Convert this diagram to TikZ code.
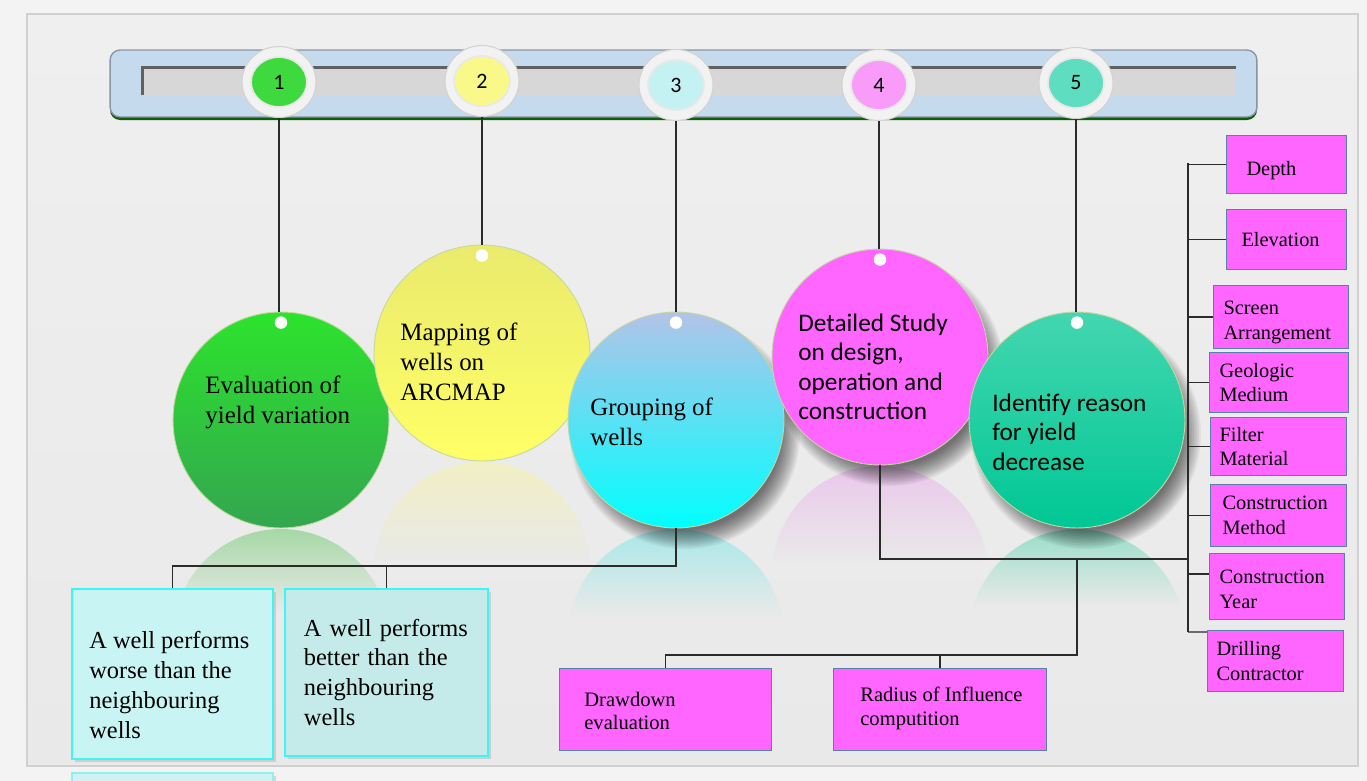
\documentclass[tikz,border=0pt]{standalone}
\usepackage{fontspec}
\setmainfont{Liberation Serif}
\newfontfamily\calib{Carlito}
\usetikzlibrary{shapes.geometric,shadows}
\definecolor{bgout}{HTML}{F3F3F3}
\definecolor{bgtop}{HTML}{EFEFEF}
\definecolor{bgbot}{HTML}{E9E9E9}
\definecolor{paneledge}{HTML}{D0D0D0}
\definecolor{barblue}{HTML}{C6DAEE}
\definecolor{bargray}{HTML}{8A96A4}
\definecolor{bargreen}{HTML}{0B5E0B}
\definecolor{chanc}{HTML}{D7D7D7}
\definecolor{nout}{HTML}{F2F2F2}
\definecolor{nca}{HTML}{3ED93E}
\definecolor{ncb}{HTML}{F9F98A}
\definecolor{ncc}{HTML}{C4F2F2}
\definecolor{ncd}{HTML}{F99CF9}
\definecolor{nce}{HTML}{5EDDC0}
\definecolor{cga}{HTML}{2DE32D}
\definecolor{cgb}{HTML}{33A650}
\definecolor{cya}{HTML}{EAEA6E}
\definecolor{cyb}{HTML}{FFFF66}
\definecolor{cca}{HTML}{B3C3E8}
\definecolor{ccb}{HTML}{00FFFF}
\definecolor{cpk}{HTML}{FF66FF}
\definecolor{cta}{HTML}{44D6B0}
\definecolor{ctb}{HTML}{00C795}
\definecolor{circedge}{HTML}{C5D8A0}
\definecolor{reflg}{HTML}{A6D8A6}
\definecolor{refly}{HTML}{F1EFC3}
\definecolor{reflc}{HTML}{A8E8E8}
\definecolor{reflp}{HTML}{EBC7EB}
\definecolor{reflt}{HTML}{98DEC9}
\definecolor{mag}{HTML}{FF66FF}
\definecolor{magedge}{HTML}{5B80A8}
\definecolor{cyanboxa}{HTML}{C8F4F4}
\definecolor{cyanboxb}{HTML}{C4EAEA}
\definecolor{cyanedge}{HTML}{3CF5F5}
\definecolor{linec}{HTML}{2B2B2B}
\begin{document}
\begin{tikzpicture}[x=0.02cm,y=-0.02cm,
  conn/.style={draw=linec, line width=0.7pt},
  bigc/.style={circle, minimum size=4.32cm, inner sep=0pt, draw=circedge, line width=0.5pt},
  numout/.style={ellipse, minimum width=1.48cm, minimum height=1.42cm, inner sep=0pt, fill=nout, draw=gray!35, line width=0.6pt},
  numin/.style={ellipse, minimum width=1.12cm, minimum height=1.0cm, inner sep=0pt, draw=gray!18, line width=1pt, font=\calib\fontsize{12.5pt}{14pt}\selectfont},
  ctext/.style={anchor=west, align=left, inner sep=0pt, font=\fontsize{14.2pt}{17pt}\selectfont},
  ctexts/.style={anchor=west, align=left, inner sep=0pt, font=\calib\fontsize{14.4pt}{16.8pt}\selectfont},
  mbox/.style={draw=magedge, fill=mag, line width=0.6pt, anchor=north west, align=left, inner ysep=0pt, font=\fontsize{11.6pt}{14.2pt}\selectfont},
  bbox/.style={draw=magedge, fill=mag, line width=0.6pt, anchor=north west, inner sep=0pt},
  btext/.style={anchor=west, align=left, inner sep=0pt, font=\fontsize{11.7pt}{13.6pt}\selectfont},
  cbox/.style={draw=cyanedge, line width=1pt, anchor=north west, align=left, inner ysep=0pt, font=\fontsize{13.9pt}{17pt}\selectfont, drop shadow={shadow xshift=0.06cm, shadow yshift=-0.06cm, opacity=0.25}}
]
\useasboundingbox (0,0) rectangle (1367,781);
% background
\fill[bgout] (0,0) rectangle (1367,781);
\shade[top color=bgtop, bottom color=bgbot, draw=paneledge, line width=1.2pt] (27,14) rectangle (1358,766);

% reflections
\begin{scope}
\clip (281,637) circle (2.16cm);
\shade[top color=reflg, bottom color=bgbot] (170,529) rectangle (392,612);
\end{scope}
\begin{scope}
\clip (482,570) circle (2.16cm);
\shade[top color=refly, bottom color=bgbot] (370,462) rectangle (594,560);
\end{scope}
\begin{scope}
\clip (676,637) circle (2.16cm);
\shade[top color=reflc, bottom color=bgbot] (565,529) rectangle (787,615);
\end{scope}
\begin{scope}
\clip (880,574) circle (2.16cm);
\shade[top color=reflp, bottom color=bgbot] (770,466) rectangle (990,560);
\end{scope}
\begin{scope}
\clip (1077,637) circle (2.16cm);
\shade[top color=reflt, bottom color=bgbot] (966,529) rectangle (1188,605);
\end{scope}

% soft shadows of circles 3-5
\foreach \cx/\cy in {676/420, 880/357, 1077/420}{
  \foreach \k in {0,...,11}{
    \fill[black, opacity=0.055] (\cx+9,\cy+14) circle ({2.3cm-\k*0.035cm});
  }
}

% big circles
\node[bigc, top color=cga, bottom color=cgb] (c1) at (281,420) {};
\node[bigc, top color=cya, bottom color=cyb] (c2) at (482,353) {};
\node[bigc, top color=cca, bottom color=ccb] (c3) at (676,420) {};
\node[bigc, fill=cpk] (c4) at (880,357) {};
\node[bigc, top color=cta, bottom color=ctb] (c5) at (1077,420) {};
\foreach \c in {c1,c2,c3,c4,c5}{
  \fill[white] ([yshift=-0.22cm]\c.north) circle (0.125cm);
}
\node[ctext] (t1) at (205,402) {Evaluation of\\yield variation};
\node[ctext] (t2) at (400,362) {Mapping of\\wells on\\ARCMAP};
\node[ctext] (t3) at (590,422) {Grouping of\\wells};
\node[ctexts] (t4) at (798,367) {Detailed Study\\on design,\\operation and\\construction};
\node[ctexts] (t5) at (992,432) {Identify reason\\for yield\\decrease};

% top bar
\fill[bargreen, rounded corners=0.2cm] (110,54) rectangle (1257,120);
\node[draw=bargray, fill=barblue, rounded corners=0.2cm, minimum width=22.94cm, minimum height=1.34cm, line width=0.8pt, inner sep=0pt] (bar) at (683.5,83.5) {};
\node[fill=chanc, minimum width=21.86cm, minimum height=0.54cm, inner sep=0pt] (chan) at (689.5,81.5) {};
\draw[gray!75!black, line width=1.6pt] (chan.south west) -- (chan.north west) -- (chan.north east);

% number circles
\node[numout] (n1) at (279,82) {};
\node[numin, fill=nca] (n1i) at (n1) {1};
\node[numout] (n2) at (482,81) {};
\node[numin, fill=ncb] (n2i) at (n2) {2};
\node[numout] (n3) at (676,85) {};
\node[numin, fill=ncc] (n3i) at (n3) {3};
\node[numout] (n4) at (879,85) {};
\node[numin, fill=ncd] (n4i) at (n4) {4};
\node[numout] (n5) at (1076,83) {};
\node[numin, fill=nce] (n5i) at (n5) {5};

% right boxes
\node[mbox, minimum width=2.4cm, minimum height=1.16cm, text width=1.6cm, inner xsep=0.4cm] (dep) at (1226,135) {\rule{0pt}{0.52cm}Depth};
\node[mbox, minimum width=2.4cm, minimum height=1.2cm, text width=1.8cm, inner xsep=0.3cm] (ele) at (1226,209) {Elevation};
\node[mbox, minimum width=2.7cm, minimum height=1.26cm, text width=2.3cm, inner xsep=0.2cm] (scr) at (1213,285) {\rule{0pt}{0.48cm}Screen\\Arrangement};
\node[mbox, minimum width=2.78cm, minimum height=1.2cm, text width=2.38cm, inner xsep=0.2cm] (geo) at (1209,352) {Geologic\\Medium};
\node[mbox, minimum width=2.72cm, minimum height=1.16cm, text width=2.36cm, inner xsep=0.18cm] (fil) at (1210,417) {Filter\\Material};
\node[mbox, minimum width=2.72cm, minimum height=1.24cm, text width=2.24cm, inner xsep=0.24cm] (cme) at (1210,484) {Construction\\Method};
\node[mbox, minimum width=2.7cm, minimum height=1.32cm, text width=2.3cm, inner xsep=0.2cm] (cyr) at (1209,553) {\rule{0pt}{0.38cm}Construction\\Year};
\node[mbox, minimum width=2.72cm, minimum height=1.22cm, text width=2.36cm, inner xsep=0.18cm] (dri) at (1207,630) {Drilling\\Contractor};

% bottom magenta boxes
\node[bbox, minimum width=4.24cm, minimum height=1.64cm] (dd) at (559,668) {};
\node[btext] (ddt) at (584,711) {Drawdown\\evaluation};
\node[bbox, minimum width=4.26cm, minimum height=1.64cm] (ri) at (833,668) {};
\node[btext] (rit) at (860,708) {Radius of Influence\\computition};

% cyan boxes
\node[cbox, fill=cyanboxa, minimum width=4.02cm, minimum height=3.4cm] (box1) at (71,588) {};
\node[anchor=west, align=left, inner sep=0pt, font=\fontsize{13.9pt}{17pt}\selectfont] (box1t) at (89,685) {A well performs\\worse than the\\neighbouring\\wells};
\node[cbox, fill=cyanboxb, minimum width=4.06cm, minimum height=3.34cm, text width=3.3cm, inner xsep=0.38cm] (box2) at (284,588) {A well performs\\better than the\\neighbouring\\wells};
\node[cbox, fill=cyanboxa!70!bgbot, draw=cyanedge!50!bgbot, minimum width=4.02cm, minimum height=1cm] (box3) at (71,772) {};

% connectors
\draw[conn] (n1.south) -- (n1.south |- c1.north);
\draw[conn] (n2.south) -- (n2.south |- c2.north);
\draw[conn] (n3.south) -- (n3.south |- c3.north);
\draw[conn] (n4.south) -- (n4.south |- c4.north);
\draw[conn] (n5.south) -- (n5.south |- c5.north);

\coordinate (hb) at (0,566);
\draw[conn] (c3.south) |- (box1.north |- hb) -- (box1.north);
\draw[conn] (box2.north |- hb) -- (box2.north);

\coordinate (j1) at (1188,559);
\draw[conn] (c4.south) |- (j1);
\coordinate (j2) at (1077,559);
\coordinate (j3) at (1077,655);
\draw[conn] (j2) -- (j3) -| (dd.north);
\draw[conn] (j3) -| (ri.north);

\coordinate (s1) at (1188,163);
\coordinate (s2) at (1188,632);
\draw[conn] (s1) -- (s2);
\draw[conn] (dep.west) -- (dep.west -| s1);
\draw[conn] (ele.west) -- (ele.west -| s1);
\draw[conn] (scr.west) -- (scr.west -| s1);
\draw[conn] (geo.west) -- (geo.west -| s1);
\draw[conn] (fil.west) -- (fil.west -| s1);
\draw[conn] (cme.west) -- (cme.west -| s1);
\coordinate (cyrb) at ([yshift=-0.42cm]cyr.north west);
\draw[conn] (cyrb) -- (cyrb -| s1);
\coordinate (drib) at ([yshift=-0.04cm]dri.north west);
\draw[conn] (drib) -- (s2);
\end{tikzpicture}
\end{document}
